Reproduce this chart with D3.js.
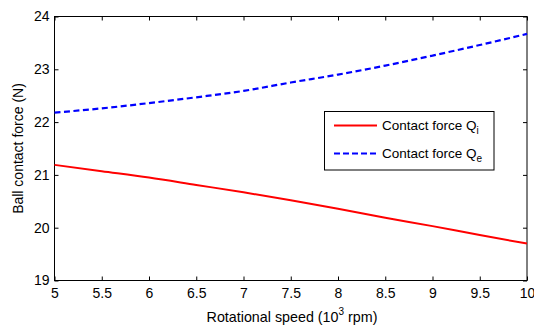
<!DOCTYPE html>
<html><head><meta charset="utf-8">
<script src="https://cdn.jsdelivr.net/npm/d3@7"></script>
<style>body{margin:0;background:#fff}svg{display:block;font-family:"Liberation Sans",Arial,sans-serif}</style>
</head><body><svg id="c" width="534" height="327"></svg>
<script>
const speeds = [5,5.5,6,6.5,7,7.5,8,8.5,9,9.5,10];
const qi = [21.19,21.07,20.95,20.81,20.67,20.52,20.36,20.19,20.03,19.86,19.70];
const qe = [22.18,22.26,22.36,22.47,22.59,22.75,22.90,23.07,23.26,23.46,23.67];
const xTicks = [5,5.5,6,6.5,7,7.5,8,8.5,9,9.5,10];
const yTicks = [19,20,21,22,23,24];

const svg = d3.select("#c");
const L=54.5, R=527, T=16.5, B=280.5;
const x = d3.scaleLinear().domain([5,10]).range([L,R]);
const y = d3.scaleLinear().domain([19,24]).range([B,T]);
const tl = 4;
const g = svg.append("g");
g.append("g").attr("transform",`translate(0,${B})`).call(d3.axisBottom(x).tickValues(xTicks).tickSizeInner(-tl).tickSizeOuter(0).tickPadding(8).tickFormat(d3.format("")));
g.append("g").attr("transform",`translate(0,${T})`).call(d3.axisTop(x).tickValues(xTicks).tickSizeInner(-tl).tickSizeOuter(0).tickFormat(""));
g.append("g").attr("transform",`translate(${L},0)`).call(d3.axisLeft(y).tickValues(yTicks).tickSizeInner(-tl).tickSizeOuter(0).tickPadding(5).tickFormat(d3.format("")));
g.append("g").attr("transform",`translate(${R},0)`).call(d3.axisRight(y).tickValues(yTicks).tickSizeInner(-tl).tickSizeOuter(0).tickFormat(""));
g.selectAll(".domain").remove();
g.selectAll(".tick line").attr("stroke","#000");
g.selectAll(".tick text").attr("font-size",14).attr("fill","#000").attr("font-family",'"Liberation Sans",Arial,sans-serif');
svg.append("rect").attr("x",L).attr("y",T).attr("width",R-L).attr("height",B-T).attr("fill","none").attr("stroke","#000").attr("stroke-width",1);

const line = d3.line().x((d,i)=>x(speeds[i])).y(d=>y(d)).curve(d3.curveMonotoneX);
svg.append("path").datum(qi).attr("d",line).attr("fill","none").attr("stroke","#ff0000").attr("stroke-width",2);
svg.append("path").datum(qe).attr("d",line).attr("fill","none").attr("stroke","#0000ff").attr("stroke-width",2.2).attr("stroke-dasharray","6,3.5");

svg.append("text").attr("x",292).attr("y",322).attr("text-anchor","middle").attr("font-size",14.3)
  .html('Rotational speed (10<tspan dy="-7" font-size="10">3</tspan><tspan dy="7"> rpm)</tspan>');
svg.append("text").attr("transform",`translate(23,${(T+B)/2}) rotate(-90)`).attr("text-anchor","middle").attr("font-size",14).text("Ball contact force (N)");

const lg = svg.append("g");
lg.append("rect").attr("x",324.5).attr("y",111.5).attr("width",169.5).attr("height",58.5).attr("fill","#fff").attr("stroke","#000").attr("stroke-width",1);
lg.append("line").attr("x1",334).attr("x2",377).attr("y1",125.5).attr("y2",125.5).attr("stroke","#ff0000").attr("stroke-width",2);
lg.append("line").attr("x1",334).attr("x2",377).attr("y1",153.5).attr("y2",153.5).attr("stroke","#0000ff").attr("stroke-width",2).attr("stroke-dasharray","6,3");
lg.append("text").attr("x",382).attr("y",129.5).attr("font-size",13.5).html('Contact force Q<tspan dy="4" font-size="10">i</tspan>');
lg.append("text").attr("x",382).attr("y",157.5).attr("font-size",13.5).html('Contact force Q<tspan dy="4" font-size="10">e</tspan>');
</script></body></html>
